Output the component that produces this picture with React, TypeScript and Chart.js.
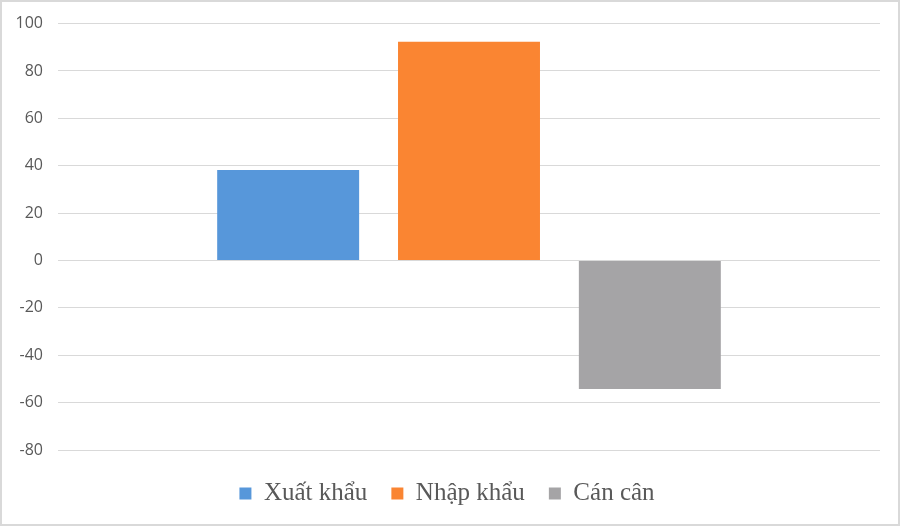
import React, { useEffect, useRef } from "react";
import { Chart, registerables } from "chart.js";

Chart.register(...registerables);

const categories = [""];
const seriesNames = ["Xuất khẩu", "Nhập khẩu", "Cán cân"];
const exportValues = [38.2];
const importValues = [92.3];
const balanceValues = [-54.2];
const seriesColors = ["#5797DA", "#FA8532", "#A5A4A6"];
const yMin = -80;
const yMax = 100;
const yStep = 20;

export default function App() {
  const ref = useRef<HTMLCanvasElement | null>(null);

  useEffect(() => {
    if (!ref.current) return;
    const values = [exportValues, importValues, balanceValues];
    const chart = new Chart(ref.current, {
      type: "bar",
      data: {
        labels: categories,
        datasets: seriesNames.map((name, i) => ({
          label: name,
          data: values[i],
          backgroundColor: seriesColors[i],
          borderWidth: 0,
          categoryPercentage: 0.66,
          barPercentage: 0.785,
        })),
      },
      options: {
        animation: false,
        responsive: true,
        maintainAspectRatio: false,
        layout: { padding: { left: 12, right: 18, top: 9, bottom: 0 } },
        plugins: {
          tooltip: { enabled: false },
          legend: {
            position: "bottom",
            labels: {
              boxWidth: 12,
              boxHeight: 12,
              padding: 24,
              color: "#595959",
              font: { family: "'Liberation Serif', 'DejaVu Serif', serif", size: 25 },
            },
          },
        },
        scales: {
          x: {
            grid: { display: false, drawTicks: false },
            border: { display: false },
            ticks: { display: false },
            afterFit: (s: any) => {
              s.height = 7;
            },
          },
          y: {
            min: yMin,
            max: yMax,
            ticks: {
              stepSize: yStep,
              padding: 15,
              color: "#595959",
              font: { family: "'Open Sans', 'Noto Sans', sans-serif", size: 16 },
            },
            grid: { color: "#d9d9d9", lineWidth: 1, drawTicks: false },
            border: { display: false },
            afterFit: (s: any) => {
              s.width = 44;
            },
          },
        },
      },
    });
    return () => chart.destroy();
  }, []);

  return (
    <div
      style={{
        position: "absolute",
        left: 0,
        top: 0,
        width: 900,
        height: 526,
        boxSizing: "border-box",
        border: "2px solid #d9d9d9",
        background: "#ffffff",
        overflow: "hidden",
      }}
    >
      <div style={{ position: "relative", top: -3, width: 896, height: 517 }}>
        <canvas ref={ref} />
      </div>
    </div>
  );
}
